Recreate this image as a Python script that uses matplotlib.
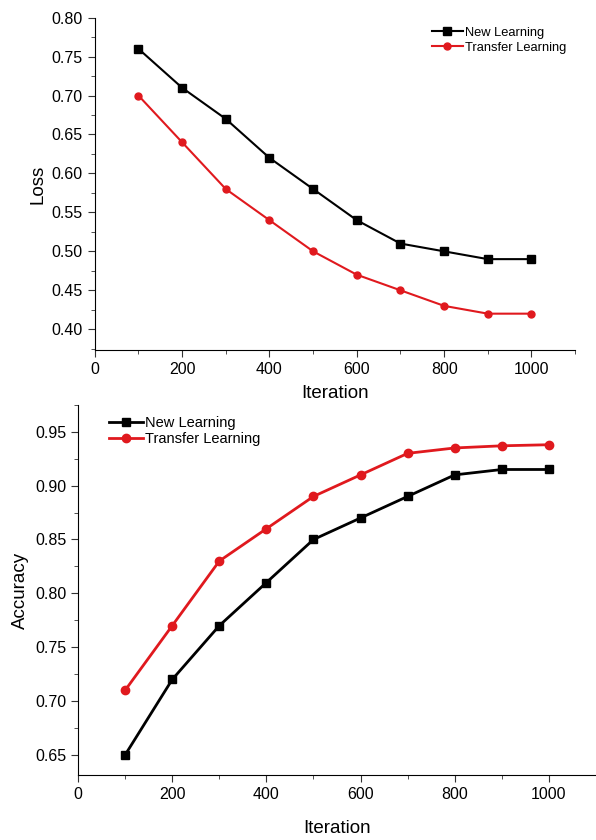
import numpy as np
import matplotlib.pyplot as plt
from matplotlib.ticker import MultipleLocator

plt.rcParams['font.family'] = ['Liberation Sans', 'DejaVu Sans']

iters = [100, 200, 300, 400, 500, 600, 700, 800, 900, 1000]

# loss
loss_new = [0.76, 0.71, 0.67, 0.62, 0.58, 0.54, 0.51, 0.50, 0.49, 0.49]
loss_transfer = [0.70, 0.64, 0.58, 0.54, 0.50, 0.47, 0.45, 0.43, 0.42, 0.42]

# accuracy
acc_new = [0.65, 0.72, 0.77, 0.81, 0.85, 0.87, 0.89, 0.91, 0.915, 0.915]
acc_transfer = [0.71, 0.77, 0.83, 0.86, 0.89, 0.91, 0.93, 0.935, 0.937, 0.938]

fig = plt.figure(figsize=(5.96, 8.4), dpi=100)

ax1 = fig.add_axes([0.159, 0.583, 0.806, 0.396])
ax2 = fig.add_axes([0.131, 0.077, 0.869, 0.441])


def style(ax, ymin, ymax, pad):
    for s in ['top', 'right']:
        ax.spines[s].set_visible(False)
    ax.set_xlim(0, 1100)
    ax.set_ylim(ymin, ymax)
    ax.xaxis.set_major_locator(MultipleLocator(200))
    ax.xaxis.set_minor_locator(MultipleLocator(100))
    ax.yaxis.set_major_locator(MultipleLocator(0.05))
    ax.yaxis.set_minor_locator(MultipleLocator(0.025))
    ax.tick_params(which='major', direction='out', length=5, labelsize=11.5, color='#333333')
    ax.tick_params(which='minor', direction='out', length=3, color='#333333')
    ax.yaxis.set_major_formatter(plt.FormatStrFormatter('%.2f'))
    ax.set_xlabel('Iteration', fontsize=13.5, labelpad=pad)


ax1.plot(iters, loss_new, color='black', marker='s', markersize=5.5, lw=1.5, label='New Learning')
ax1.plot(iters, loss_transfer, color='#e0191e', marker='o', markersize=5, lw=1.5,
         markeredgecolor='#e0191e', label='Transfer Learning')
style(ax1, 0.373, 0.80, 6)
ax1.set_ylabel('Loss', fontsize=13.5)
ax1.legend(loc='upper right', frameon=False, fontsize=9.3, handlelength=2.4,
           handletextpad=0.15, labelspacing=0.25, bbox_to_anchor=(1.0, 1.0),
           borderaxespad=0.3)

ax2.plot(iters, acc_new, color='black', marker='s', markersize=6, lw=2, label='New Learning')
ax2.plot(iters, acc_transfer, color='#e0191e', marker='o', markersize=6, lw=2,
         label='Transfer Learning')
style(ax2, 0.631, 0.975, 13)
ax2.set_ylabel('Accuracy', fontsize=13.5)
ax2.legend(loc='upper left', frameon=False, fontsize=10.5, handlelength=2.3,
           handletextpad=0.15, labelspacing=0.1, bbox_to_anchor=(0.035, 1.005))

fig.savefig('out.png', dpi=100)
